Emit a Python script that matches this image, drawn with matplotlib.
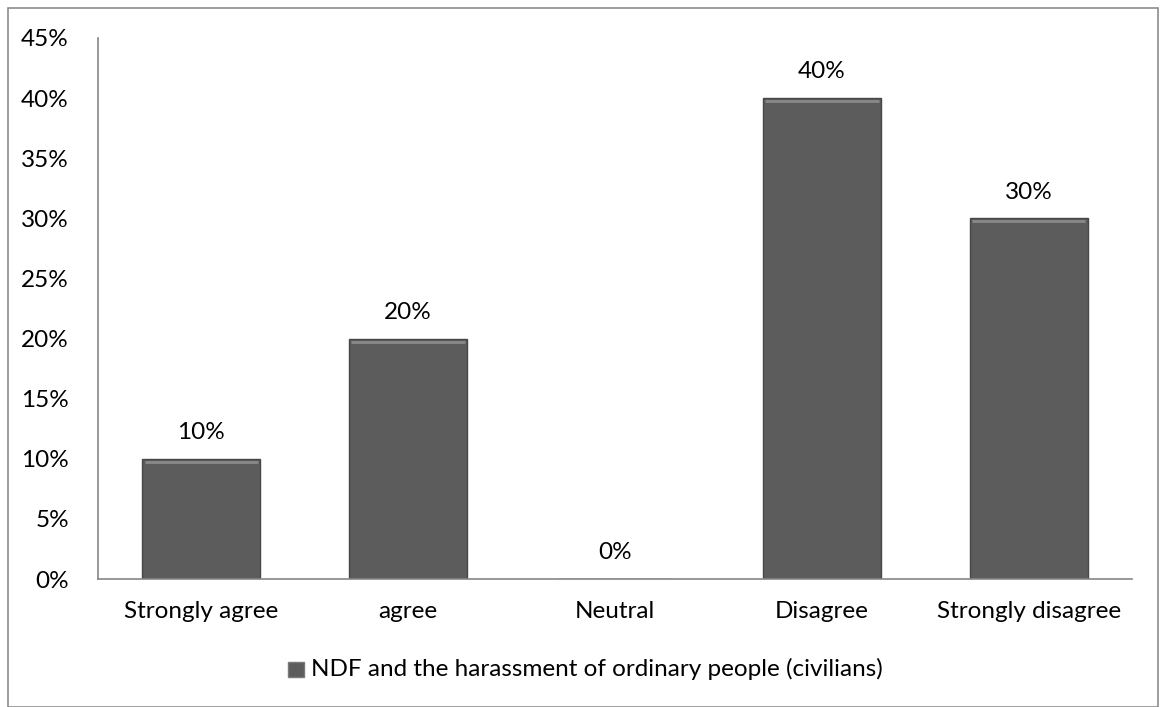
import matplotlib.pyplot as plt
from matplotlib.patches import Rectangle

# data
categories = ['Strongly agree', 'agree', 'Neutral', 'Disagree', 'Strongly disagree']
values = [10, 20, 0, 40, 30]
yticks = [0, 5, 10, 15, 20, 25, 30, 35, 40, 45]
series_name = 'NDF and the harassment of ordinary people (civilians)'

plt.rcParams['font.family'] = ['Lato', 'DejaVu Sans']
fs = 17.5

W, H = 1161, 707
fig = plt.figure(figsize=(W/100, H/100), dpi=100)
# outer frame
fig.patches.append(Rectangle((8/W, 0), (1158-8)/W, 1-8/H, transform=fig.transFigure,
                             fill=False, ec='#8c8c8c', lw=1.2))

ax = fig.add_axes([98/W, 1-579/H, (1132-98)/W, (579-38)/H])
x = range(len(categories))
bars = ax.bar(x, values, width=0.57, color='#5c5c5c', edgecolor='#474747', lw=1.0, zorder=2)
# light bevel at the top of each bar
for b, v in zip(bars, values):
    if v > 0:
        ax.plot([b.get_x()+0.01, b.get_x()+b.get_width()-0.01], [v-0.25, v-0.25],
                color='#8a8a8a', lw=2, zorder=3, solid_capstyle='butt')

for i, v in enumerate(values):
    ax.text(i, v+1.3, f'{v}%', ha='center', va='bottom', fontsize=fs)

ax.set_xlim(-0.5, len(categories)-0.5)
ax.set_ylim(0, 45)
ax.set_yticks(yticks)
ax.set_yticklabels([f'{t}%' for t in yticks], fontsize=fs)
ax.set_xticks(list(x))
ax.set_xticklabels(categories, fontsize=fs)
ax.tick_params(axis='x', length=0, pad=16)
ax.tick_params(axis='y', length=0, pad=21)
for s in ['top', 'right']:
    ax.spines[s].set_visible(False)
for s in ['left', 'bottom']:
    ax.spines[s].set_color('#868686')
    ax.spines[s].set_linewidth(1.2)

# legend
fig.patches.append(Rectangle((288/W, 1-677/H), 16/W, 15/H, transform=fig.transFigure,
                             fc='#5c5c5c', ec='#7a7a7a', lw=1))
fig.text(311/W, 1-669/H, series_name, fontsize=fs, ha='left', va='center')

fig.savefig('out.png', dpi=100)
